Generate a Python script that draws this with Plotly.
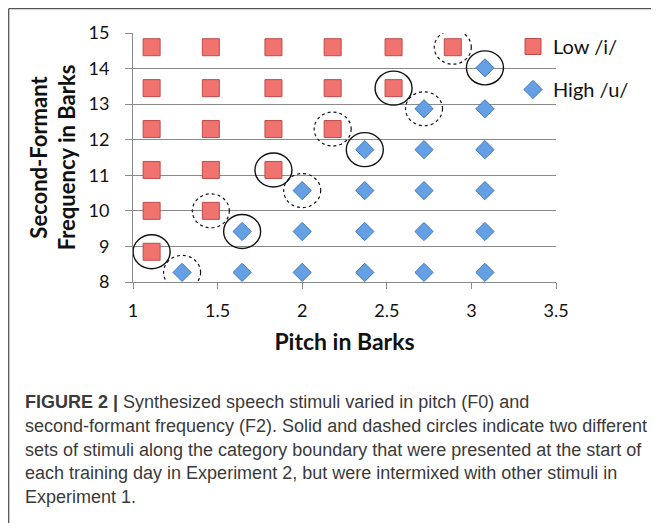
import plotly.graph_objects as go

# ---- data ----
low_pitch = [1.11,
             1.11, 1.46,
             1.11, 1.46, 1.83,
             1.11, 1.46, 1.83, 2.18,
             1.11, 1.46, 1.83, 2.18, 2.54,
             1.11, 1.46, 1.83, 2.18, 2.54, 2.89]
low_f2 = [8.85,
          10.0, 10.0,
          11.15, 11.15, 11.15,
          12.3, 12.3, 12.3, 12.3,
          13.45, 13.45, 13.45, 13.45, 13.45,
          14.6, 14.6, 14.6, 14.6, 14.6, 14.6]

high_pitch = [1.29, 1.645, 2.0, 2.37, 2.72, 3.08,
              1.645, 2.0, 2.37, 2.72, 3.08,
              2.0, 2.37, 2.72, 3.08,
              2.37, 2.72, 3.08,
              2.72, 3.08,
              3.08]
high_f2 = [8.27, 8.27, 8.27, 8.27, 8.27, 8.27,
           9.42, 9.42, 9.42, 9.42, 9.42,
           10.57, 10.57, 10.57, 10.57,
           11.72, 11.72, 11.72,
           12.87, 12.87,
           14.02]

solid_pitch = [1.11, 1.645, 1.83, 2.37, 2.54, 3.08]
solid_f2 = [8.85, 9.42, 11.15, 11.72, 13.45, 14.02]
dashed_pitch = [1.29, 1.46, 2.0, 2.18, 2.72, 2.89]
dashed_f2 = [8.27, 10.0, 10.57, 12.3, 12.87, 14.6]

x_ticks = [1, 1.5, 2, 2.5, 3, 3.5]
y_ticks = [8, 9, 10, 11, 12, 13, 14, 15]

caption_lines = [
    "<b>FIGURE 2 |</b> Synthesized speech stimuli varied in pitch (F0) and",
    "second-formant frequency (F2). Solid and dashed circles indicate two different",
    "sets of stimuli along the category boundary that were presented at the start of",
    "each training day in Experiment 2, but were intermixed with other stimuli in",
    "Experiment 1.",
]

# ---- layout geometry ----
# positions below are given in page pixels; the page body adds an 8px margin
OFF = 8
PAGE_W, PAGE_H = 659, 523
W, H = PAGE_W - OFF, PAGE_H - OFF
L, R, T, B = 133 - OFF, 556 - OFF, 33 - OFF, 282 - OFF
PW, PH = R - L, B - T


def px(page_x):
    return (page_x - OFF - L) / PW


def py(page_y):
    return (B - (page_y - OFF)) / PH


FONT = "Lato"

fig = go.Figure()
fig.add_trace(go.Scatter(
    x=low_pitch, y=low_f2, mode="markers", name="Low /i/",
    legendgroup="a",
    marker=dict(symbol="square", size=17, color="#F07370",
                line=dict(color="#BE4B48", width=1)),
))
fig.add_trace(go.Scatter(
    x=high_pitch, y=high_f2, mode="markers", name="High /u/",
    legendgroup="b",
    marker=dict(symbol="diamond", size=14, color="#64A0E3",
                line=dict(color="#3F78BF", width=1)),
))

shapes = []
for xs, ys, dash, lw in [(solid_pitch, solid_f2, "solid", 1.4),
                         (dashed_pitch, dashed_f2, "dot", 1.2)]:
    for cx, cy in zip(xs, ys):
        shapes.append(dict(
            type="circle", xref="x", yref="y",
            xsizemode="pixel", ysizemode="pixel",
            xanchor=cx, yanchor=cy,
            x0=-18.5, x1=18.5, y0=-17, y1=17,
            line=dict(color="#111111", width=lw, dash=dash),
            layer="above",
        ))

# outer figure frame (left and top edges)
shapes.append(dict(type="line", xref="paper", yref="paper",
                   x0=px(8.7), x1=px(8.7), y0=py(8.7), y1=py(PAGE_H + 5),
                   line=dict(color="#555555", width=1.3)))
shapes.append(dict(type="line", xref="paper", yref="paper",
                   x0=px(8.7), x1=px(PAGE_W + 5), y0=py(8.7), y1=py(8.7),
                   line=dict(color="#555555", width=1.3)))

annotations = []
for i, line in enumerate(caption_lines):
    annotations.append(dict(
        text=line, xref="paper", yref="paper",
        x=px(23), y=py(402 + i * 23.8), xanchor="left", yanchor="middle",
        showarrow=False, align="left",
        font=dict(family="Liberation Sans", size=18, color="#3a3a3a"),
    ))

fig.update_layout(
    width=W, height=H,
    margin=dict(l=L, r=W - R, t=T, b=H - B, pad=0),
    paper_bgcolor="white", plot_bgcolor="white",
    font=dict(family=FONT, color="#111111"),
    showlegend=True,
    legend=dict(x=px(513), y=py(27), xanchor="left", yanchor="top",
                font=dict(family=FONT, size=20, color="#111111"),
                bgcolor="rgba(0,0,0,0)", borderwidth=0,
                itemwidth=30, tracegroupgap=14,
                traceorder="grouped"),
    xaxis=dict(range=[1, 3.5], tickvals=x_ticks,
               ticktext=[f"{v:g}" for v in x_ticks],
               showgrid=False, zeroline=False,
               showline=True, linecolor="#8a8a8a", linewidth=1,
               ticks="outside", ticklen=6, tickcolor="#8a8a8a",
               ticklabelstandoff=6,
               tickfont=dict(family=FONT, size=18, color="#111111"),
               title=dict(text="<b>Pitch in Barks</b>", standoff=14,
                          font=dict(family=FONT, size=23, color="#111111"))),
    yaxis=dict(range=[8, 15], tickvals=y_ticks,
               showgrid=True, gridcolor="#8a8a8a", gridwidth=1,
               zeroline=False,
               showline=True, linecolor="#8a8a8a", linewidth=1,
               ticks="outside", ticklen=7, tickcolor="#8a8a8a",
               ticklabelstandoff=12,
               tickfont=dict(family=FONT, size=18, color="#111111"),
               title=dict(text="<b>Second-Formant<br>Frequency in Barks</b>", standoff=6,
                          font=dict(family=FONT, size=22, color="#111111"))),
    shapes=shapes,
    annotations=annotations,
)

fig.write_html("out.html")
